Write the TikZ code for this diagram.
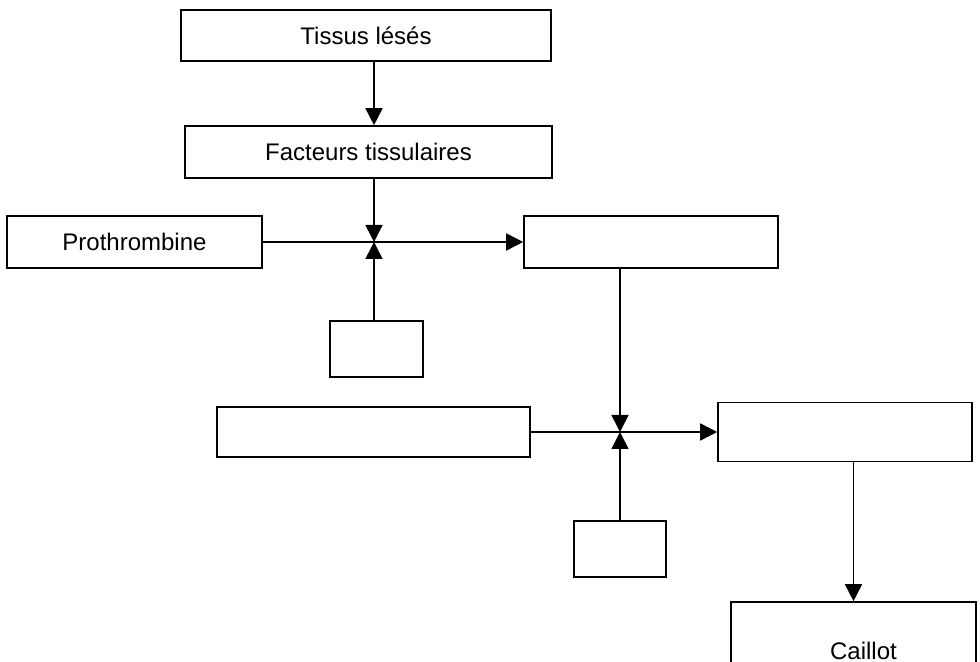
\documentclass[tikz,border=0pt]{standalone}
\usepackage{fontspec}
\setmainfont{Liberation Sans}
\usetikzlibrary{arrows.meta, positioning}
\tikzset{
  B/.style={draw=black, line width=0.8pt, inner sep=0pt,
    font=\fontsize{12}{14}\selectfont, align=center},
  Bs/.style={B, minimum width=46.5pt, minimum height=28pt},
  A/.style={-{Triangle[length=8.5pt,width=8.5pt]}, line width=0.8pt},
}
\begin{document}
\begin{tikzpicture}[x=0.5pt, y=-0.5pt]
\useasboundingbox (0,0) rectangle (980,662);
\clip (0,0) rectangle (980,662);

% =====================================================================
% TOP: tissue chain
% =====================================================================
\node[B, minimum width=185pt, minimum height=25.5pt] (tissus) at (366,35.5) {Tissus lésés};
\node[B, minimum width=183.5pt, minimum height=26pt] (facteurs) at (368.5,152) {Facteurs tissulaires};

% ── first junction ───────────────────────────────────────────────────
\coordinate (j1) at (374,242);
\node[B, minimum width=127.5pt, minimum height=26pt] (proth) at (134.5,242) {Prothrombine};
\node[B, minimum width=127pt, minimum height=26pt] (prod1) at (651,242) {};
\node[Bs] (cof1) at (376.5,349) {};

\draw[A] (tissus.south -| j1) -- (facteurs.north -| j1);
\draw[A] (facteurs.south -| j1) -- (j1);
\draw[A] (proth) -- (prod1);
\draw[A] (cof1.north -| j1) -- (j1);

% ── second junction ──────────────────────────────────────────────────
\coordinate (j2) at (620,432);
\node[B, minimum width=156.5pt, minimum height=25pt] (subst) at (373.5,432) {};
\node[B, minimum width=127pt, minimum height=29.5pt] (prod2) at (845,432) {};
\node[Bs, minimum width=46pt] (cof2) at (620,549) {};

\draw[A] (prod1.south -| j2) -- (j2);
\draw[A] (subst) -- (prod2);
\draw[A] (cof2) -- (j2);

% ── clot ─────────────────────────────────────────────────────────────
\node[B, minimum width=122.5pt, minimum height=49pt] (caillot) at (853.5,651) {\hspace*{10pt}Caillot};
\draw[A] (prod2.south -| caillot) -- (caillot);

\end{tikzpicture}
\end{document}
